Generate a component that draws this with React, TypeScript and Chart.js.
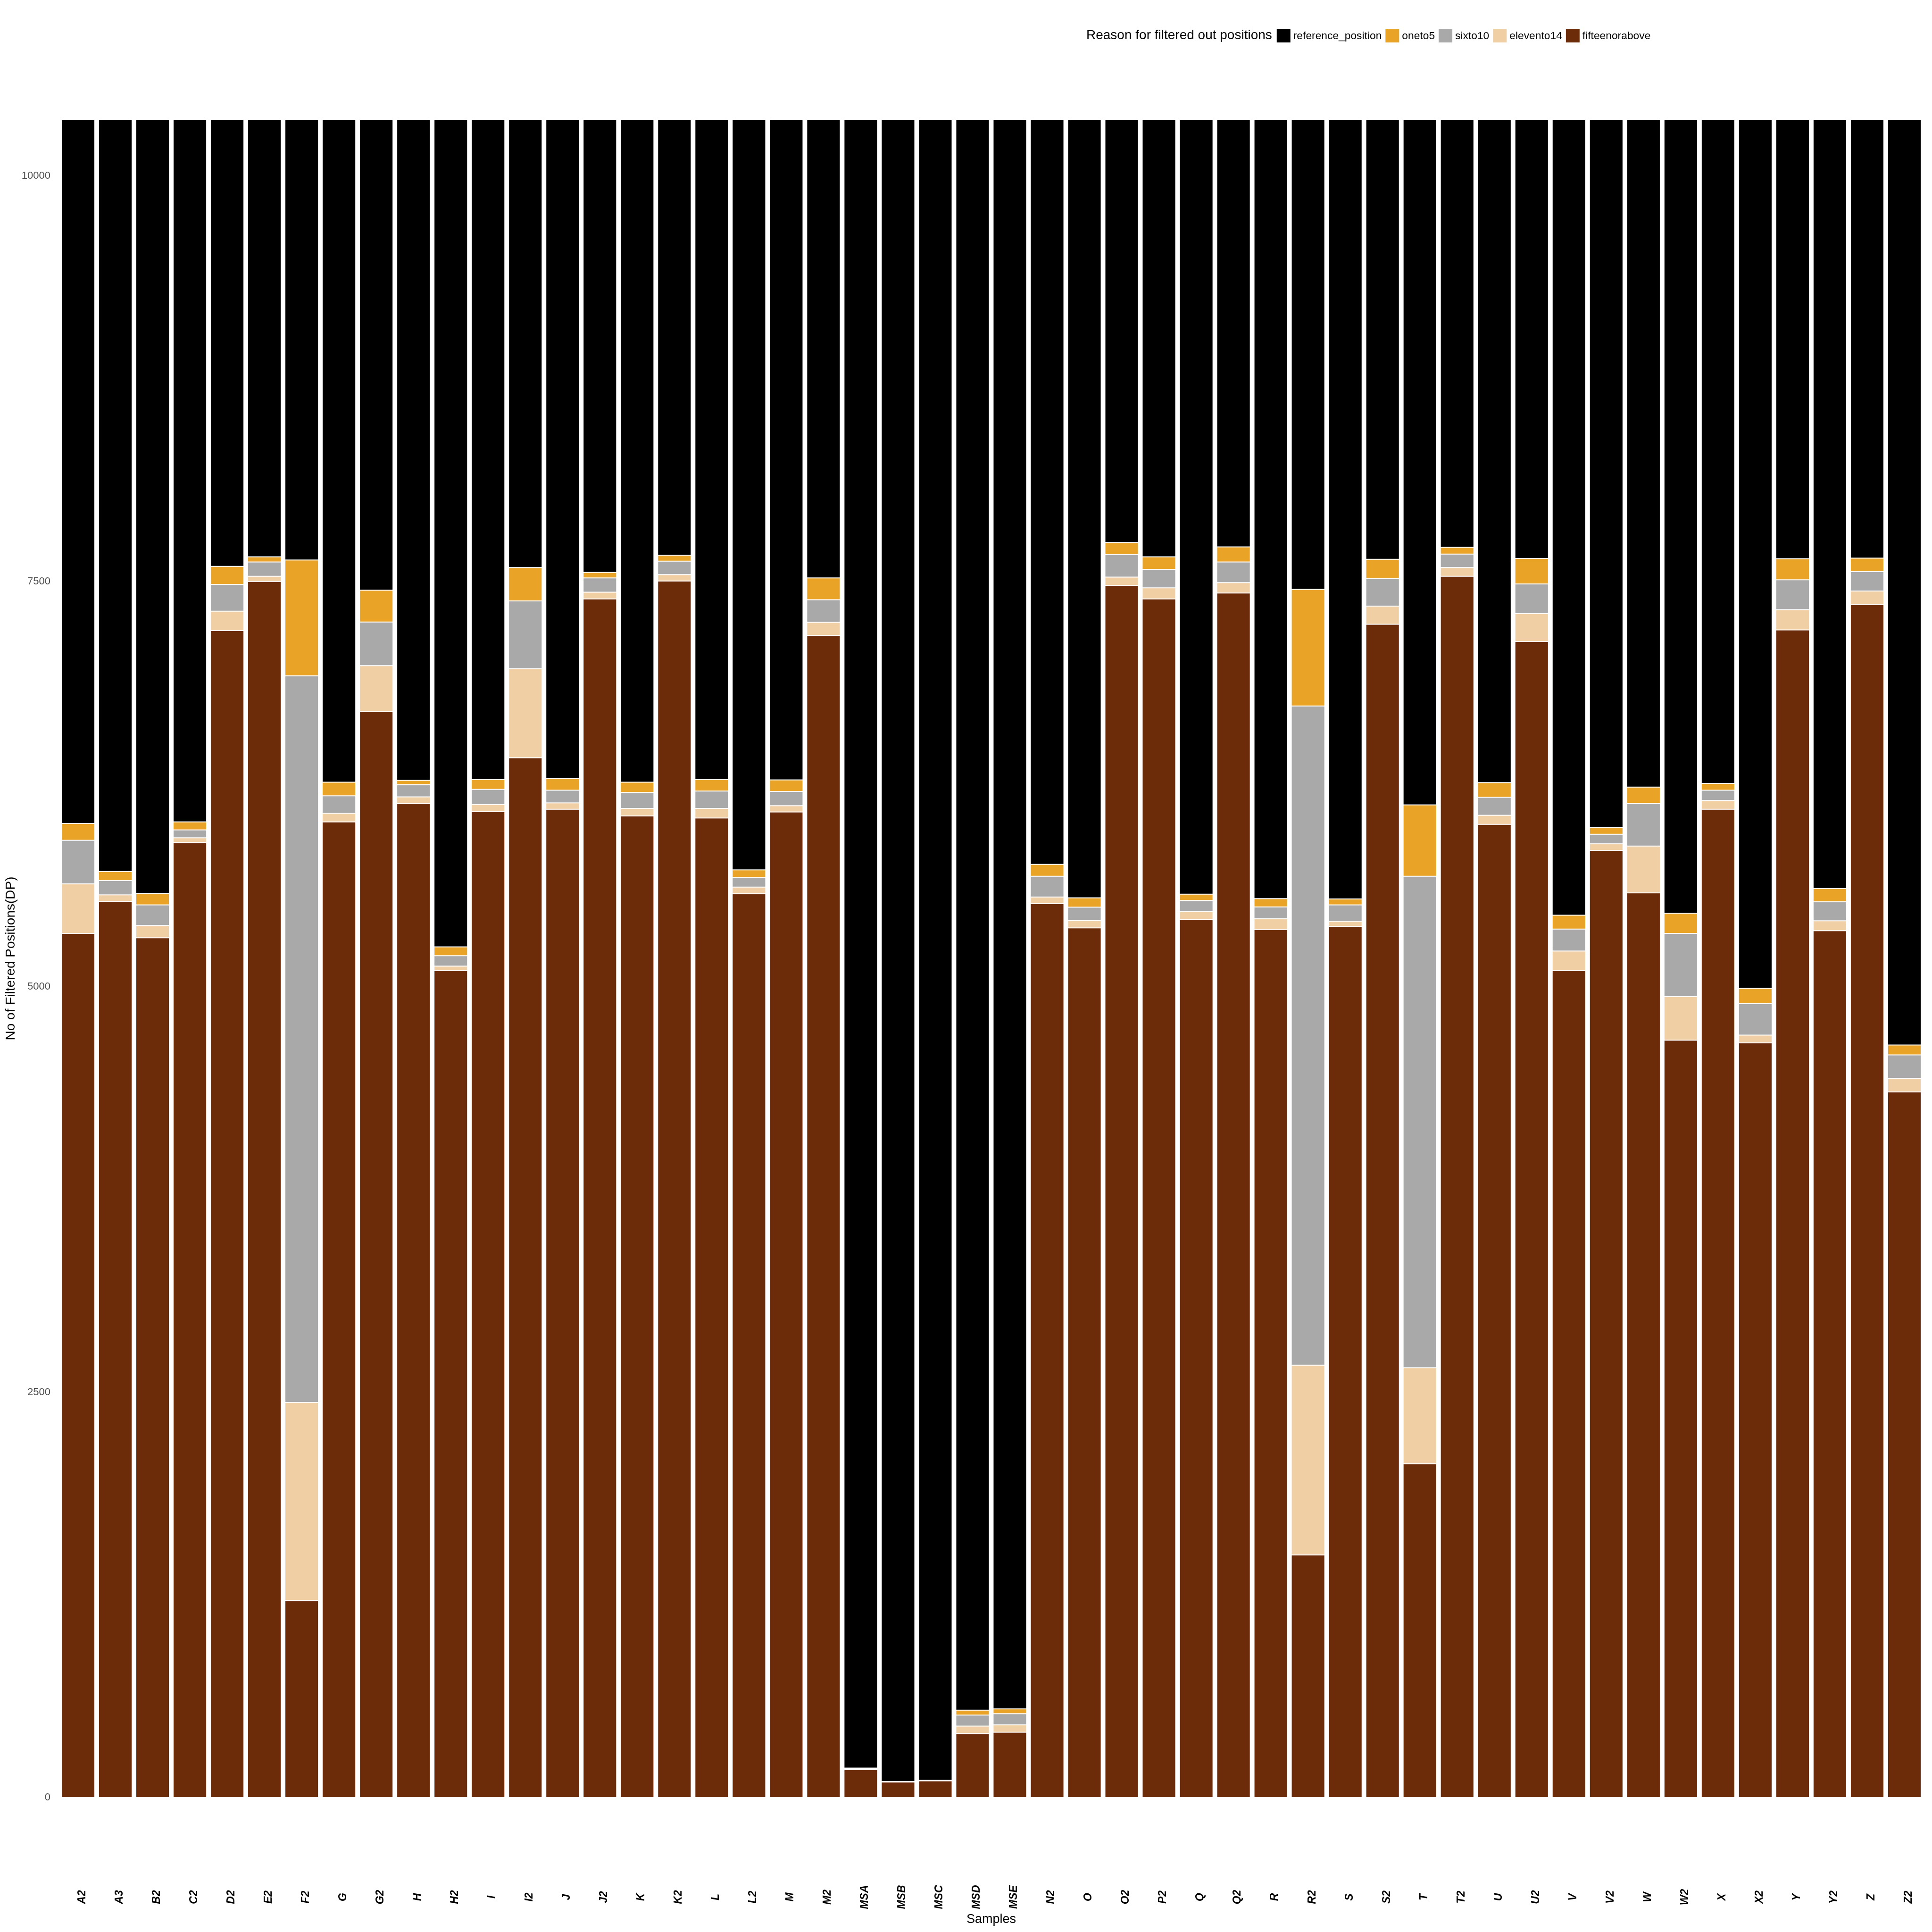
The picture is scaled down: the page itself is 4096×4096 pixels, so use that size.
import React, { useEffect, useRef } from "react";
import { Chart, registerables } from "chart.js";

Chart.register(...registerables);

const samples = ["A2","A3","B2","C2","D2","E2","F2","G","G2","H","H2","I","I2","J","J2","K","K2","L","L2","M","M2","MSA","MSB","MSC","MSD","MSE","N2","O","O2","P2","Q","Q2","R","R2","S","S2","T","T2","U","U2","V","V2","W","W2","X","X2","Y","Y2","Z","Z2"];

const fifteenorabove = [5329,5527,5302,5890,7197,7500,1215,6017,6697,6132,5101,6080,6413,6095,7392,6054,7503,6041,5574,6078,7167,172,96,103,395,403,5513,5363,7476,7392,5415,7429,5354,1497,5373,7236,2059,7532,6002,7130,5101,5841,5579,4671,6095,4654,7201,5346,7358,4352];
const elevento14 = [306,40,76,29,120,32,1223,54,284,39,27,45,549,39,42,46,39,59,41,39,81,4,2,2,46,46,41,47,51,69,49,64,66,1169,32,112,592,54,56,172,120,41,289,269,54,48,125,61,83,84];
const sixto10 = [269,88,127,49,164,88,4480,107,269,76,64,93,418,79,88,98,83,108,59,88,139,6,1,1,68,68,128,81,140,113,68,127,73,4066,100,169,3031,83,111,183,135,59,264,389,64,194,184,118,120,144];
const oneto5 = [103,56,71,49,112,32,714,84,196,27,54,61,206,71,34,64,37,71,47,71,135,0,0,0,30,30,73,58,73,78,39,93,51,719,37,120,440,42,90,157,86,42,100,125,41,95,130,81,83,61];
const reference_position = [4343,4639,4774,4333,2757,2698,2718,4088,2904,4076,5104,4071,2764,4066,2794,4088,2688,4071,4629,4074,2828,10168,10251,10244,9811,9803,4595,4801,2610,2698,4779,2637,4806,2899,4808,2713,4228,2639,4091,2708,4908,4367,4118,4896,4096,5359,2710,4744,2706,5709];

const yTicks = [0, 2500, 5000, 7500, 10000];
const yMax = 10350;

const legendTitle = "Reason for filtered out positions";
const seriesNames = ["fifteenorabove", "elevento14", "sixto10", "oneto5", "reference_position"];
const seriesColors = ["#6C2B09", "#F1CFA4", "#A9A9A9", "#E9A427", "#000000"];
const seriesData = [fifteenorabove, elevento14, sixto10, oneto5, reference_position];

const FONT = '"Liberation Sans", Arial, Helvetica, sans-serif';

const overlayPlugin = {
  id: "overlay",
  afterDraw(chart: any) {
    const ctx = chart.ctx;
    const xs = chart.scales.x;
    ctx.save();
    // x tick labels, rotated
    ctx.fillStyle = "#000000";
    ctx.font = `italic bold 23px ${FONT}`;
    ctx.textAlign = "center";
    ctx.textBaseline = "middle";
    samples.forEach((s, i) => {
      const x = xs.getPixelForValue(i);
      ctx.save();
      ctx.translate(x + 9, 4022);
      ctx.rotate(-Math.PI / 2);
      ctx.fillText(s, 0, 0);
      ctx.restore();
    });
    // legend
    const ly = 75.5;
    ctx.textAlign = "left";
    ctx.font = `28px ${FONT}`;
    let x = 2303;
    ctx.fillText(legendTitle, x, ly);
    x += ctx.measureText(legendTitle).width + 10;
    ctx.font = `22.8px ${FONT}`;
    const order = [4, 3, 2, 1, 0];
    const box = 29;
    order.forEach((k) => {
      ctx.fillStyle = seriesColors[k];
      ctx.fillRect(x, ly - box / 2, box, box);
      x += box + 6;
      ctx.fillStyle = "#000000";
      ctx.fillText(seriesNames[k], x, ly + 1);
      x += ctx.measureText(seriesNames[k]).width + 8;
    });
    ctx.restore();
  },
};

export default function App() {
  const ref = useRef<HTMLCanvasElement>(null);
  useEffect(() => {
    document.body.style.margin = "0";
    const canvas = ref.current!;
    const chart = new Chart(canvas, {
      type: "bar",
      data: {
        labels: samples,
        datasets: seriesData.map((d, k) => ({
          label: seriesNames[k],
          data: d,
          backgroundColor: seriesColors[k],
          borderColor: "rgba(255,255,255,0.45)",
          borderWidth: 1,
          borderSkipped: false,
          barPercentage: 0.9,
          categoryPercentage: 1,
        })),
      },
      options: {
        animation: false,
        responsive: false,
        devicePixelRatio: 1,
        layout: { padding: { top: 253, right: 19, left: 0, bottom: 0 } },
        plugins: { legend: { display: false }, tooltip: { enabled: false } },
        scales: {
          x: {
            stacked: true,
            grid: { display: false },
            border: { display: false },
            ticks: { display: false },
            title: {
              display: true,
              text: "Samples",
              color: "#000000",
              font: { family: FONT, size: 27 },
              padding: { top: 0, bottom: 10 },
            },
            afterFit: (s: any) => { s.height = 285; },
          },
          y: {
            stacked: true,
            min: 0,
            max: yMax,
            grid: { display: false, drawTicks: false },
            border: { display: false },
            afterBuildTicks: (s: any) => { s.ticks = yTicks.map((v) => ({ value: v })); },
            ticks: {
              padding: 19,
              color: "#4D4D4D",
              font: { family: FONT, size: 22 },
              callback: (v: any) => String(v),
            },
            title: {
              display: true,
              text: "No of Filtered Positions(DP)",
              color: "#000000",
              font: { family: FONT, size: 28 },
              padding: { top: 6, bottom: 0 },
            },
            afterFit: (s: any) => { s.width = 126; },
          },
        },
      },
      plugins: [overlayPlugin],
    });
    return () => chart.destroy();
  }, []);
  return (
    <div style={{ width: 4096, height: 4096 }}>
      <canvas ref={ref} width={4096} height={4096} style={{ display: "block", width: 4096, height: 4096 }} />
    </div>
  );
}
